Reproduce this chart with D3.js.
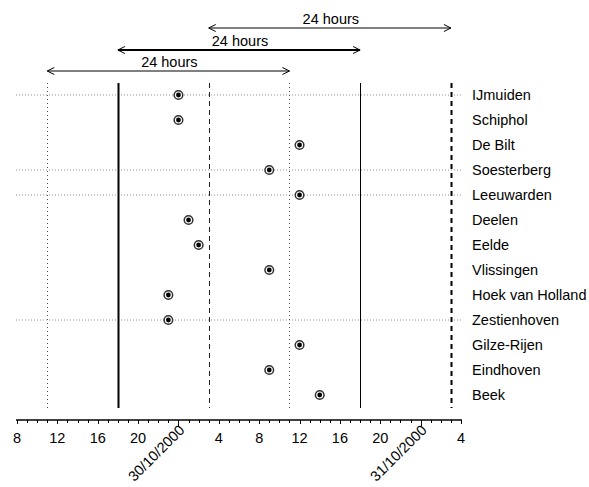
<!DOCTYPE html>
<html>
<head>
<meta charset="utf-8">
<script src="https://cdn.jsdelivr.net/npm/d3@7"></script>
<style>
  body { margin: 0; background: #fff; }
  svg text { font-family: "Liberation Sans", Arial, sans-serif; fill: #000; }
</style>
</head>
<body>
<svg id="chart" width="589" height="487"></svg>
<script>
// ---- Data ----
const stations = ["IJmuiden", "Schiphol", "De Bilt", "Soesterberg", "Leeuwarden", "Deelen",
  "Eelde", "Vlissingen", "Hoek van Holland", "Zestienhoven", "Gilze-Rijen", "Eindhoven", "Beek"];
// time of each station's observation (UTC)
const obsTimes = ["2000-10-30T00:00", "2000-10-30T00:00", "2000-10-30T12:00", "2000-10-30T09:00",
  "2000-10-30T12:00", "2000-10-30T01:00", "2000-10-30T02:00", "2000-10-30T09:00",
  "2000-10-29T23:00", "2000-10-29T23:00", "2000-10-30T12:00", "2000-10-30T09:00",
  "2000-10-30T14:00"];
// stations that get a horizontal guide line
const guideStations = ["IJmuiden", "Soesterberg", "Leeuwarden", "Zestienhoven"];

// vertical reference lines
const refTimes = ["2000-10-29T11:00", "2000-10-30T11:00", "2000-10-29T18:00", "2000-10-30T18:00",
  "2000-10-30T03:00", "2000-10-31T03:00"];
const refStyles = ["dotted", "dotted", "solidThick", "solid", "dashed", "dashedThick"];

// 24 hour windows
const windowStart = ["2000-10-29T11:00", "2000-10-29T18:00", "2000-10-30T03:00"];
const windowEnd = ["2000-10-30T11:00", "2000-10-30T18:00", "2000-10-31T03:00"];
const windowLabel = ["24 hours", "24 hours", "24 hours"];

const timeStart = "2000-10-29T08:00";
const timeEnd = "2000-10-31T04:00";

const parse = s => new Date(s + ":00Z");
const FONT = "14.5px";

// ---- Scales ----
const svg = d3.select("#chart");
const x = d3.scaleUtc().domain([parse(timeStart), parse(timeEnd)]).range([17, 461]);
const y = d3.scalePoint().domain(stations).range([95, 395]);
const plotTop = 83, plotBottom = 408, axisY = 420;

// ---- Horizontal guides ----
svg.selectAll("line.guide")
  .data(guideStations)
  .join("line")
  .attr("class", "guide")
  .attr("x1", 16).attr("x2", 461)
  .attr("y1", d => y(d)).attr("y2", d => y(d))
  .attr("stroke", "#777")
  .attr("stroke-width", 0.8)
  .attr("stroke-dasharray", "1,2");

// ---- Vertical reference lines ----
const styleMap = {
  dotted: { w: 1, dash: "1,3", c: "#555" },
  solid: { w: 1, dash: null, c: "#000" },
  solidThick: { w: 2, dash: null, c: "#000" },
  dashed: { w: 1, dash: "5,4", c: "#222" },
  dashedThick: { w: 2, dash: "5,4", c: "#000" },
};
svg.selectAll("line.ref")
  .data(refTimes.map((t, i) => ({ t: parse(t), s: styleMap[refStyles[i]] })))
  .join("line")
  .attr("class", "ref")
  .attr("x1", d => Math.round(x(d.t)) + 0.5).attr("x2", d => Math.round(x(d.t)) + 0.5)
  .attr("y1", plotTop).attr("y2", plotBottom)
  .attr("stroke", d => d.s.c)
  .attr("stroke-width", d => d.s.w)
  .attr("stroke-dasharray", d => d.s.dash);

// ---- 24 hour arrows ----
const arrowY = [71, 50, 28];
const arrowW = [1, 2, 1];
const windows = windowStart.map((s, i) => ({
  x1: x(parse(s)), x2: x(parse(windowEnd[i])), y: arrowY[i], w: arrowW[i], label: windowLabel[i]
}));
const arrows = svg.selectAll("g.arrow").data(windows).join("g").attr("class", "arrow");
arrows.append("line")
  .attr("x1", d => d.x1).attr("x2", d => d.x2)
  .attr("y1", d => d.y).attr("y2", d => d.y)
  .attr("stroke", "#000").attr("stroke-width", d => d.w);
arrows.append("path")
  .attr("d", d => `M${d.x1 + 7},${d.y - 3.5}L${d.x1},${d.y}L${d.x1 + 7},${d.y + 3.5}` +
    `M${d.x2 - 7},${d.y - 3.5}L${d.x2},${d.y}L${d.x2 - 7},${d.y + 3.5}`)
  .attr("fill", "none").attr("stroke", "#000").attr("stroke-width", 1);
arrows.append("text")
  .attr("x", d => (d.x1 + d.x2) / 2 + 1)
  .attr("y", d => d.y - 4)
  .attr("text-anchor", "middle")
  .style("font-size", FONT)
  .text(d => d.label);

// ---- Points ----
const pts = stations.map((s, i) => ({ s, t: parse(obsTimes[i]) }));
svg.selectAll("circle.ring").data(pts).join("circle")
  .attr("class", "ring")
  .attr("cx", d => x(d.t)).attr("cy", d => y(d.s))
  .attr("r", 4.3).attr("fill", "#fff").attr("stroke", "#333").attr("stroke-width", 1.5);
svg.selectAll("circle.dot").data(pts).join("circle")
  .attr("class", "dot")
  .attr("cx", d => x(d.t)).attr("cy", d => y(d.s))
  .attr("r", 2.4).attr("fill", "#000");

// ---- Station labels ----
svg.selectAll("text.station").data(stations).join("text")
  .attr("class", "station")
  .attr("x", 472).attr("y", d => y(d)).attr("dy", "0.35em")
  .style("font-size", FONT)
  .text(d => d);

// ---- X axis ----
const ax = svg.append("g");
ax.append("line").attr("x1", 16).attr("x2", 462).attr("y1", axisY).attr("y2", axisY)
  .attr("stroke", "#000").attr("stroke-width", 1.5);
const hours = d3.utcHour.range(parse(timeStart), d3.utcHour.offset(parse(timeEnd), 1));
ax.selectAll("line.tick").data(hours).join("line")
  .attr("class", "tick")
  .attr("x1", d => Math.round(x(d)) + 0.5).attr("x2", d => Math.round(x(d)) + 0.5)
  .attr("y1", axisY)
  .attr("y2", d => axisY + (d.getUTCHours() === 0 ? 6 : d.getUTCHours() % 4 === 0 ? 4 : 3))
  .attr("stroke", "#000").attr("stroke-width", 1);
const labelTicks = hours.filter(d => d.getUTCHours() % 4 === 0);
ax.selectAll("text.hour").data(labelTicks.filter(d => d.getUTCHours() !== 0)).join("text")
  .attr("class", "hour")
  .attr("x", d => x(d)).attr("y", axisY + 23)
  .attr("text-anchor", "middle")
  .style("font-size", FONT)
  .text(d => d.getUTCHours());
const dateFmt = d3.utcFormat("%d/%m/%Y");
ax.selectAll("text.date").data(labelTicks.filter(d => d.getUTCHours() === 0)).join("text")
  .attr("class", "date")
  .attr("transform", d => `translate(${x(d) + 7},${axisY + 11}) rotate(-45)`)
  .attr("text-anchor", "end")
  .style("font-size", FONT)
  .text(d => dateFmt(d));
</script>
</body>
</html>
